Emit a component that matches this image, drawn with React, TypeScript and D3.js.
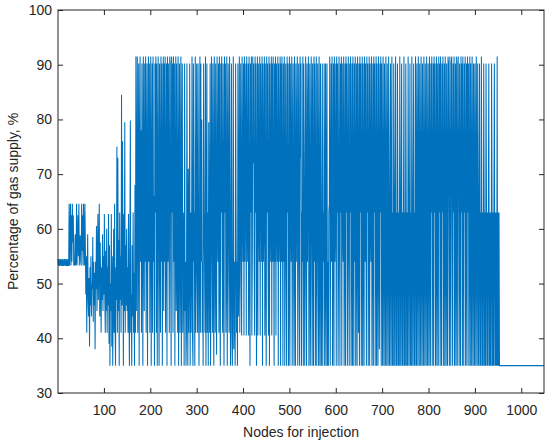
import { useEffect, useRef } from "react";
import * as d3 from "d3";

// values, one per node, nodes 1..955
const nodes001 = [
  54.5, 53.3, 54.5, 53.3, 53.3, 54.5, 53.3, 54.5, 53.3, 53.3,
  54.5, 53.3, 53.3, 54.5, 53.3, 54.5, 53.3, 53.3, 54.5, 53.3,
  53.3, 54.5, 53.3, 53.3, 64.6, 53.3, 58.8, 64.6, 53.3, 62.5,
  54, 64.6, 57.5, 62.5, 53.3, 54, 53.3, 59, 53.3, 54,
  64.6, 53.3, 58, 62.5, 55, 64.6, 53.3, 57.5, 58.8, 54,
  53.3, 64.6, 56, 62.5, 53.3, 64.6, 59, 53.3, 64.6, 57,
  48, 55, 41, 52, 59, 47, 44, 51, 38.5, 53,
  46, 55, 44, 50, 49, 58.5, 43, 54, 46, 52,
  38, 54, 49, 60.5, 45, 53, 62.7, 47, 55, 64.6,
  44, 57.5, 50, 41, 53, 47, 59, 45, 55, 48,
];
const nodes101 = [
  62.7, 47, 41, 56, 45, 60, 41, 53, 46, 62.7,
  39, 57, 35, 50, 45, 62.7, 38.5, 55, 35, 48,
  60, 41, 64.6, 44, 35, 53, 47, 75, 41, 73,
  45, 58, 35, 63, 47, 55, 41, 84.5, 46, 76,
  55, 35, 62.7, 45, 79.5, 41, 57, 46, 60, 45,
  53, 41, 62.7, 47, 35, 56, 79.8, 41, 48, 35,
  57, 44, 63, 41, 52, 35, 68, 41, 91.5, 45,
  66, 91.5, 41, 63, 90.2, 35, 68, 91.5, 54, 78,
  41, 90.2, 63, 35, 91.5, 66, 45, 90.2, 54, 91.5,
  41, 68, 90.2, 35, 63, 91.5, 54, 90.2, 41, 66,
];
const nodes201 = [
  91.5, 35, 63, 90.2, 41, 91.5, 54, 66, 35, 90.2,
  63, 91.5, 41, 90.2, 35, 68, 91.5, 54, 35, 90.2,
  63, 41, 91.5, 54, 90.2, 35, 66, 91.5, 45, 90.2,
  54, 91.5, 41, 63, 90.2, 35, 91.5, 54, 90.2, 63,
  41, 91.5, 90.2, 54, 35, 91.5, 63, 90.2, 41, 91.5,
  54, 90.2, 35, 63, 91.5, 45, 90.2, 54, 41, 91.5,
  35, 63, 90.2, 41, 54, 91.5, 35, 70, 90.2, 41,
  54, 63, 35, 90.2, 45, 54, 35, 41, 90.2, 54,
  35, 71, 41, 54, 90.2, 35, 63, 41, 54, 91.5,
  41, 35, 90.2, 54, 63, 35, 91.5, 41, 54, 90.2,
];
const nodes301 = [
  54, 41, 90.2, 63, 35, 54, 91.5, 41, 90.2, 54,
  80, 41, 54, 35, 90.2, 63, 54, 41, 91.5, 35,
  54, 90.2, 41, 63, 35, 79.5, 54, 41, 90.2, 35,
  54, 91.5, 63, 41, 90.2, 54, 35, 91.5, 63, 41,
  90.2, 54, 37, 91.5, 63, 54, 90.2, 41, 91.5, 54,
  35, 90.2, 63, 91.5, 54, 41, 90.2, 54, 35, 91.5,
  63, 90.2, 41, 54, 91.5, 35, 72, 90.2, 54, 41,
  91.5, 63, 35, 54, 90.2, 41, 35, 54, 91.5, 38,
  44, 54, 35, 90.2, 63, 41, 54, 35, 90.2, 44,
  54, 91.5, 41, 63, 90.2, 54, 40.5, 91.5, 63, 54,
];
const nodes401 = [
  90.2, 40.5, 91.5, 54, 72, 90.2, 40.5, 91.5, 63, 54,
  90.2, 40.5, 91.5, 54, 35, 90.2, 63, 91.5, 40.5, 54,
  91.5, 72, 90.2, 54, 40.5, 91.5, 63, 90.2, 35, 54,
  91.5, 40.5, 90.2, 63, 54, 91.5, 40.5, 90.2, 72, 54,
  91.5, 35, 90.2, 54, 63, 91.5, 40.5, 90.2, 54, 35,
  91.5, 63, 90.2, 54, 40.5, 91.5, 35, 90.2, 63, 54,
  91.5, 40.5, 90.2, 54, 91.5, 63, 35, 90.2, 54, 91.5,
  40.5, 90.2, 63, 54, 91.5, 35, 90.2, 54, 63, 91.5,
  35, 90.2, 54, 91.5, 63, 35, 90.2, 54, 91.5, 35,
  63, 90.2, 54, 35, 91.5, 63, 90.2, 35, 54, 91.5,
];
const nodes501 = [
  35, 90.2, 63, 54, 91.5, 35, 73, 90.2, 54, 35,
  91.5, 63, 35, 90.2, 54, 73, 91.5, 35, 63, 90.2,
  54, 35, 91.5, 73, 90.2, 35, 63, 54, 91.5, 35,
  90.2, 73, 35, 54, 91.5, 63, 35, 90.2, 54, 75,
  91.5, 35, 63, 90.2, 35, 54, 91.5, 73, 35, 90.2,
  63, 35, 91.5, 54, 90.2, 35, 63, 91.5, 35, 54,
  90.2, 63, 35, 91.5, 54, 35, 90.2, 63, 35, 54,
  90.2, 35, 63, 54, 90.2, 35, 54, 90.2, 35, 63,
  90.2, 35, 54, 35, 63, 64.5, 91.5, 35, 63, 90.2,
  54, 91.5, 35, 63, 90.2, 35, 91.5, 54, 63, 90.2,
];
const nodes601 = [
  35, 91.5, 63, 90.2, 35, 54, 91.5, 63, 35, 90.2,
  63, 91.5, 35, 90.2, 63, 54, 91.5, 35, 63, 90.2,
  35, 91.5, 63, 90.2, 35, 63, 91.5, 54, 35, 90.2,
  63, 91.5, 35, 63, 90.2, 35, 91.5, 63, 35, 90.2,
  54, 91.5, 35, 63, 90.2, 35, 91.5, 63, 41, 90.2,
  35, 91.5, 63, 90.2, 35, 63, 91.5, 35, 90.2, 63,
  35, 91.5, 54, 90.2, 63, 35, 91.5, 63, 90.2, 35,
  63, 91.5, 35, 90.2, 63, 54, 91.5, 35, 63, 90.2,
  35, 91.5, 63, 90.2, 35, 63, 91.5, 35, 90.2, 63,
  35, 91.5, 63, 38, 90.2, 63, 91.5, 35, 90.2, 63,
];
const nodes701 = [
  35, 91.5, 63, 35, 90.2, 63, 35, 91.5, 63, 35,
  90.2, 63, 35, 91.5, 63, 35, 63, 90.2, 35, 63,
  91.5, 35, 63, 35, 90.2, 63, 35, 63, 91.5, 35,
  63, 35, 90.2, 63, 35, 63, 35, 91.5, 63, 35,
  63, 90.2, 35, 63, 35, 63, 91.5, 35, 63, 35,
  90.2, 63, 35, 63, 35, 91.5, 63, 35, 63, 90.2,
  35, 63, 35, 91.5, 63, 35, 63, 90.2, 35, 63,
  35, 91.5, 63, 35, 90.2, 63, 35, 91.5, 63, 35,
  90.2, 63, 35, 91.5, 63, 35, 90.2, 63, 35, 91.5,
  63, 35, 90.2, 63, 35, 91.5, 63, 35, 90.2, 63,
];
const nodes801 = [
  35, 91.5, 63, 35, 90.2, 63, 91.5, 35, 63, 90.2,
  35, 91.5, 63, 90.2, 35, 63, 91.5, 35, 90.2, 63,
  35, 91.5, 63, 90.2, 35, 91.5, 63, 35, 90.2, 63,
  91.5, 35, 63, 90.2, 35, 91.5, 63, 35, 90.2, 63,
  35, 91.5, 90.2, 63, 35, 91.5, 63, 35, 90.2, 91.5,
  63, 35, 90.2, 63, 91.5, 35, 63, 90.2, 35, 91.5,
  63, 35, 90.2, 91.5, 63, 35, 90.2, 63, 35, 91.5,
  63, 90.2, 35, 91.5, 63, 35, 90.2, 63, 91.5, 35,
  63, 90.2, 35, 91.5, 63, 90.2, 35, 63, 91.5, 35,
  90.2, 63, 35, 91.5, 63, 35, 90.2, 63, 35, 90.2,
];
const nodes901 = [
  63, 35, 91.5, 63, 35, 90.2, 63, 35, 63, 90.2,
  35, 63, 35, 91.5, 63, 35, 63, 35, 90.2, 63,
  35, 63, 35, 90.2, 63, 35, 63, 35, 63, 90.2,
  35, 63, 35, 63, 35, 90.2, 63, 35, 63, 35,
  63, 90.2, 35, 63, 35, 63, 35, 91.5, 35, 63,
  35, 63, 35, 35, 35,
];
// flat tail after the last injection spike
const tailNodes = [1049];
const tailValues = [35];

const xTicks = [100, 200, 300, 400, 500, 600, 700, 800, 900, 1000];
const yTicks = [30, 40, 50, 60, 70, 80, 90, 100];

export default function App() {
  const ref = useRef<SVGSVGElement>(null);
  const width = 550;
  const height = 445;
  const margin = { top: 10, right: 6, bottom: 52, left: 58 };

  useEffect(() => {
    if (!ref.current) return;
    const svg = d3.select(ref.current);
    svg.selectAll("*").remove();

    const values = [
      ...nodes001, ...nodes101, ...nodes201, ...nodes301, ...nodes401,
      ...nodes501, ...nodes601, ...nodes701, ...nodes801, ...nodes901,
    ];
    const points: [number, number][] = values.map((v, i) => [i + 1, v]);
    tailNodes.forEach((n, i) => points.push([n, tailValues[i]]));

    const x = d3.scaleLinear().domain([1, 1049]).range([margin.left, width - margin.right]);
    const y = d3.scaleLinear().domain([30, 100]).range([height - margin.bottom, margin.top]);

    const line = d3.line<[number, number]>()
      .x(d => x(d[0]))
      .y(d => y(d[1]));

    svg.append("path")
      .datum(points)
      .attr("d", line)
      .attr("fill", "none")
      .attr("stroke", "#0072BD")
      .attr("stroke-width", 1.05);

    const axisColor = "#262626";
    const font = "Arial, 'Liberation Sans', Helvetica, sans-serif";

    const styleAxis = (g: d3.Selection<SVGGElement, unknown, null, undefined>) => {
      g.select(".domain").remove();
      g.selectAll("line").attr("stroke", axisColor);
      g.selectAll("text").attr("fill", axisColor).style("font-size", "14px").style("font-family", font);
    };

    svg.append("g")
      .attr("transform", `translate(0,${height - margin.bottom})`)
      .call(d3.axisBottom(x).tickValues(xTicks).tickFormat(d3.format("d")).tickSizeInner(-5).tickSizeOuter(0).tickPadding(12))
      .call(styleAxis);
    svg.append("g")
      .attr("transform", `translate(0,${margin.top})`)
      .call(d3.axisTop(x).tickValues(xTicks).tickSizeInner(-5).tickSizeOuter(0).tickFormat(() => ""))
      .call(styleAxis);
    svg.append("g")
      .attr("transform", `translate(${margin.left},0)`)
      .call(d3.axisLeft(y).tickValues(yTicks).tickFormat(d3.format("d")).tickSizeInner(-5).tickSizeOuter(0).tickPadding(6))
      .call(styleAxis);
    svg.append("g")
      .attr("transform", `translate(${width - margin.right},0)`)
      .call(d3.axisRight(y).tickValues(yTicks).tickSizeInner(-5).tickSizeOuter(0).tickFormat(() => ""))
      .call(styleAxis);

    svg.append("rect")
      .attr("x", margin.left)
      .attr("y", margin.top)
      .attr("width", width - margin.left - margin.right)
      .attr("height", height - margin.top - margin.bottom)
      .attr("fill", "none")
      .attr("stroke", axisColor)
      .attr("stroke-width", 1);

    svg.append("text")
      .attr("x", (margin.left + width - margin.right) / 2)
      .attr("y", 437)
      .attr("text-anchor", "middle")
      .attr("fill", axisColor)
      .style("font-size", "14px")
      .style("font-family", font)
      .text("Nodes for injection");

    svg.append("text")
      .attr("transform", `translate(18,${(margin.top + height - margin.bottom) / 2}) rotate(-90)`)
      .attr("text-anchor", "middle")
      .attr("fill", axisColor)
      .style("font-size", "14px")
      .style("font-family", font)
      .text("Percentage of gas supply, %");
  }, []);

  return (
    <svg
      ref={ref}
      width={width}
      height={height}
      style={{ position: "absolute", left: 0, top: 0, background: "#fff" }}
    />
  );
}
